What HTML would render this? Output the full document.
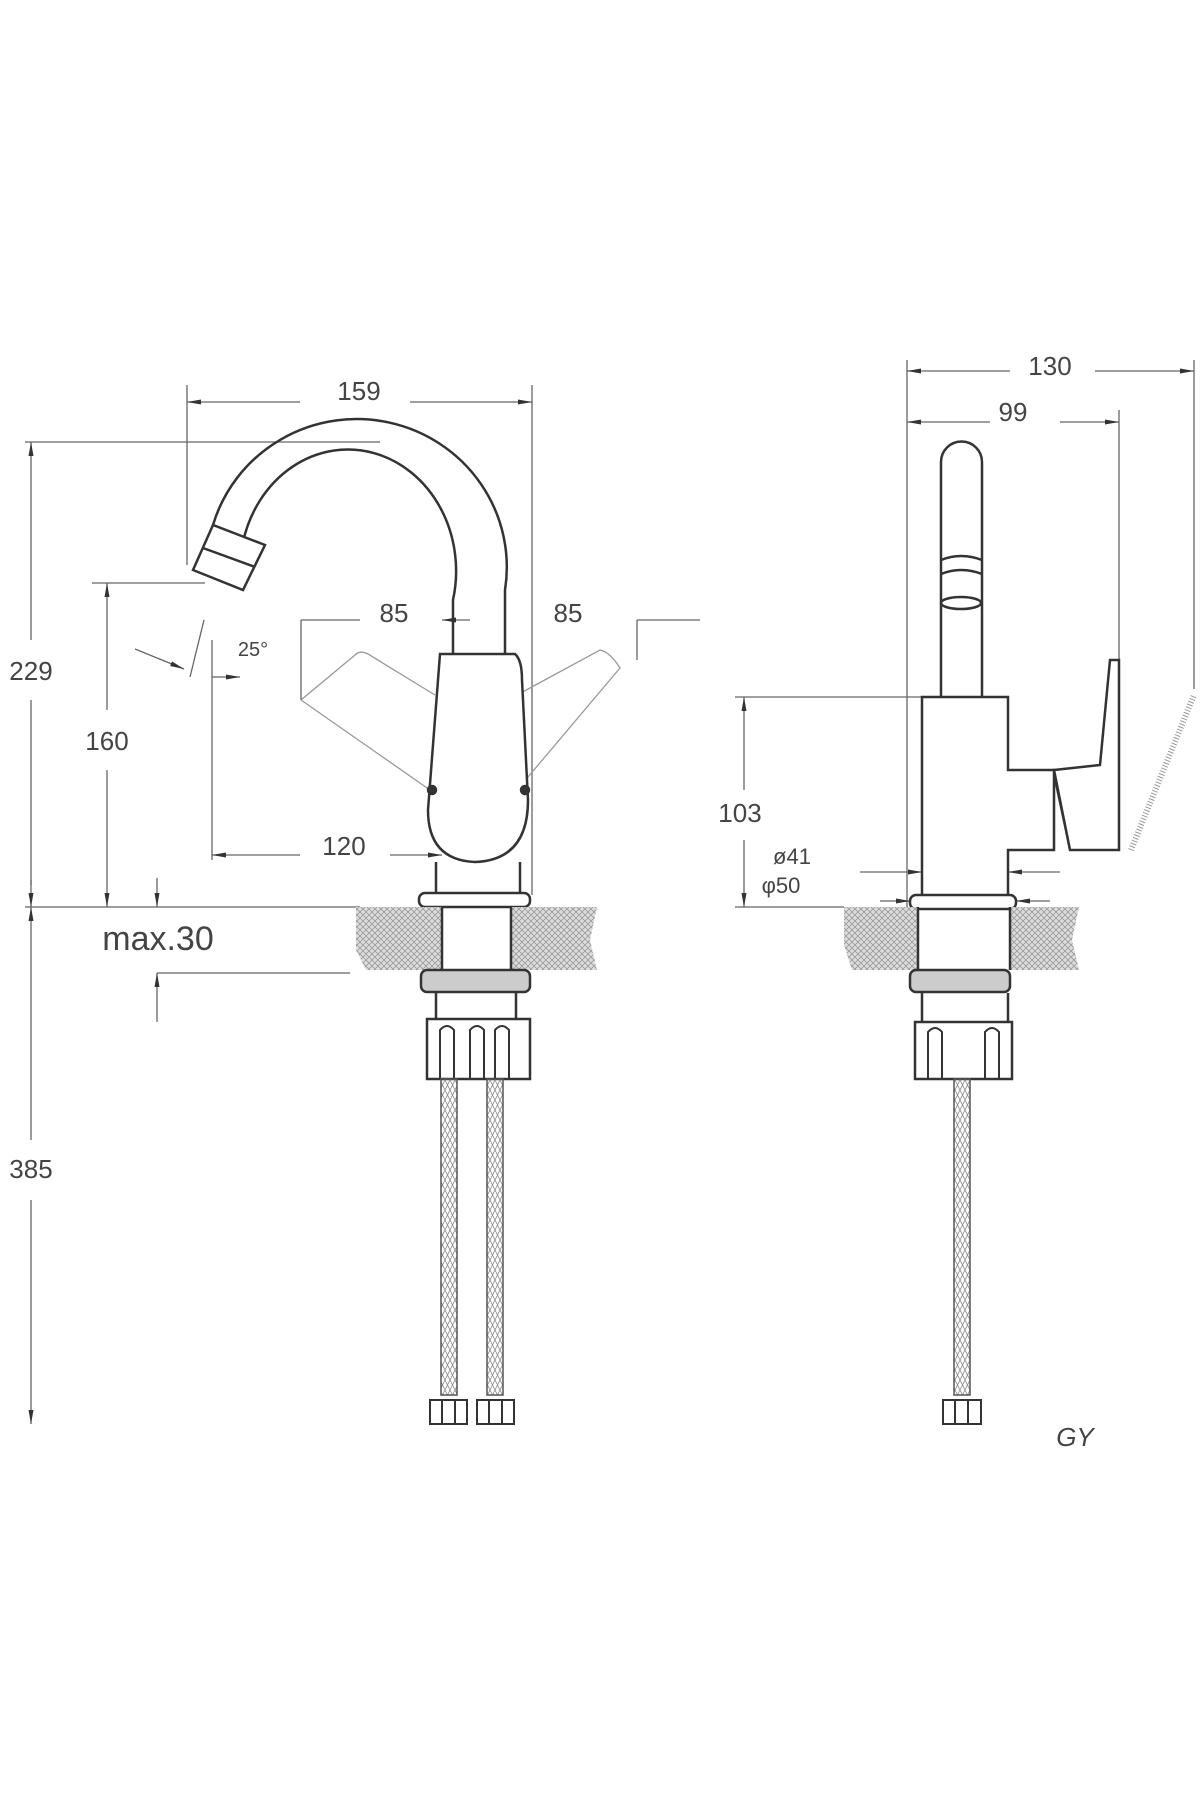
<!DOCTYPE html>
<html><head><meta charset="utf-8"><style>
html,body{margin:0;padding:0;background:#fff;}
svg{display:block;}
text{font-family:"Liberation Sans",sans-serif;fill:#444;}
</style></head><body>
<svg width="1200" height="1800" viewBox="0 0 1200 1800" xmlns="http://www.w3.org/2000/svg">
<defs>
<pattern id="h" width="6" height="6" patternUnits="userSpaceOnUse"><rect width="6" height="6" fill="#ddd"/><path d="M0 6L6 0M0 0L6 6" stroke="#999" stroke-width="0.8"/></pattern>
<pattern id="hs" width="5" height="10" patternUnits="userSpaceOnUse"><path d="M0 0L5 10M5 0L0 10" stroke="#888" stroke-width="0.8"/></pattern>
<marker id="a" markerWidth="14" markerHeight="8" refX="14" refY="4" orient="auto" markerUnits="userSpaceOnUse"><path d="M0 1.5L14 4L0 6.5Z" fill="#333"/></marker>
</defs>
<g stroke="#666" stroke-width="1.3" fill="none">
<!-- left view dims -->
<line x1="187" y1="385" x2="187" y2="565"/>
<line x1="532" y1="385" x2="532" y2="895"/>
<line x1="300" y1="402" x2="187" y2="402" marker-end="url(#a)"/>
<line x1="410" y1="402" x2="532" y2="402" marker-end="url(#a)"/>
<line x1="25" y1="442" x2="380" y2="442"/>
<line x1="31" y1="640" x2="31" y2="442" marker-end="url(#a)"/>
<line x1="31" y1="700" x2="31" y2="885"/>
<line x1="31" y1="880" x2="31" y2="907" marker-end="url(#a)"/>
<line x1="31" y1="935" x2="31" y2="907" marker-end="url(#a)"/>
<line x1="31" y1="935" x2="31" y2="1140"/>
<line x1="31" y1="1200" x2="31" y2="1424" marker-end="url(#a)"/>
<line x1="92" y1="583" x2="205" y2="583"/>
<line x1="107" y1="710" x2="107" y2="583" marker-end="url(#a)"/>
<line x1="107" y1="770" x2="107" y2="907" marker-end="url(#a)"/>
<line x1="25" y1="907" x2="360" y2="907"/>
<line x1="157" y1="878" x2="157" y2="907" marker-end="url(#a)"/>
<line x1="157" y1="1022" x2="157" y2="973" marker-end="url(#a)"/>
<line x1="157" y1="973" x2="350" y2="973"/>
<line x1="212" y1="640" x2="212" y2="860"/>
<line x1="300" y1="855" x2="212" y2="855" marker-end="url(#a)"/>
<line x1="390" y1="855" x2="442" y2="855" marker-end="url(#a)"/>
<line x1="301" y1="620" x2="301" y2="700"/>
<line x1="301" y1="620" x2="360" y2="620"/>
<line x1="470" y1="620" x2="442" y2="620" marker-end="url(#a)"/>
<line x1="700" y1="620" x2="637" y2="620"/>
<line x1="637" y1="620" x2="637" y2="660"/>
<line x1="204" y1="620" x2="190" y2="677"/>
<line x1="135" y1="649" x2="184" y2="669" marker-end="url(#a)"/>
<line x1="212" y1="677" x2="240" y2="677" marker-end="url(#a)"/>
<!-- ghost levers -->
<path d="M301 700 L355 655 Q360 650 368 654 L435 695 M301 700 L430 790" stroke="#999"/>
<path d="M517 695 L600 650 Q610 652 620 668 L517 790" stroke="#999"/>
</g>
<g stroke="#333" stroke-width="2.5" fill="none">
<!-- spout -->
<path d="M453 654 L453 600 A105 118 0 0 0 243 542"/>
<path d="M505 654 L505 590 A150 148 0 0 0 213 525"/>
<path d="M193 570 L213 525 L265 545 L243 590 Z" fill="#fff"/>
<line x1="203" y1="548" x2="255" y2="567"/>
<!-- handle -->
<path d="M440 654 L515 654 Q522 660 522 680 L528 800 Q528 860 475 862 Q428 860 428 810 Z" fill="#fff"/>
<circle cx="432" cy="790" r="4" fill="#333"/><circle cx="525" cy="790" r="4" fill="#333"/>
<line x1="436" y1="862" x2="436" y2="892"/><line x1="520" y1="862" x2="520" y2="892"/>
<rect x="419" y="893" width="111" height="14" rx="6" fill="#fff"/>
</g>
<path d="M356 907 L442 907 L442 970 L366 970 L356 950 Z" fill="url(#h)"/>
<path d="M511 907 L597 907 L590 940 L597 970 L511 970 Z" fill="url(#h)"/>
<g stroke="#333" stroke-width="2.5" fill="none">
<line x1="442" y1="907" x2="442" y2="970"/><line x1="511" y1="907" x2="511" y2="970"/>
<rect x="421" y="970" width="109" height="22" rx="6" fill="#ccc"/>
<line x1="436" y1="993" x2="436" y2="1019"/><line x1="516" y1="993" x2="516" y2="1019"/>
<rect x="427" y="1019" width="103" height="60" fill="#fff"/>
<path d="M440 1079V1030Q447 1022 454 1030V1079M470 1079V1030Q477 1022 484 1030V1079M495 1079V1030Q502 1022 509 1030V1079" stroke-width="2"/>
</g>
<rect x="441" y="1079" width="16" height="316" fill="url(#hs)" stroke="#555" stroke-width="1.5"/>
<rect x="487" y="1079" width="16" height="316" fill="url(#hs)" stroke="#555" stroke-width="1.5"/>
<g stroke="#333" stroke-width="2" fill="#fff">
<rect x="430" y="1400" width="37" height="24"/><rect x="477" y="1400" width="37" height="24"/>
<line x1="442" y1="1400" x2="442" y2="1424"/><line x1="455" y1="1400" x2="455" y2="1424"/>
<line x1="489" y1="1400" x2="489" y2="1424"/><line x1="502" y1="1400" x2="502" y2="1424"/>
</g>
<!-- right view -->
<g stroke="#666" stroke-width="1.3" fill="none">
<line x1="907" y1="360" x2="907" y2="907"/>
<line x1="1194" y1="360" x2="1194" y2="689"/>
<line x1="1119" y1="410" x2="1119" y2="660"/>
<line x1="1010" y1="371" x2="907" y2="371" marker-end="url(#a)"/>
<line x1="1095" y1="371" x2="1194" y2="371" marker-end="url(#a)"/>
<line x1="990" y1="422" x2="907" y2="422" marker-end="url(#a)"/>
<line x1="1060" y1="422" x2="1119" y2="422" marker-end="url(#a)"/>
<line x1="735" y1="697" x2="922" y2="697"/>
<line x1="744" y1="790" x2="744" y2="697" marker-end="url(#a)"/>
<line x1="744" y1="840" x2="744" y2="907" marker-end="url(#a)"/>
<line x1="735" y1="907" x2="844" y2="907"/>
<line x1="860" y1="872" x2="922" y2="872" marker-end="url(#a)"/>
<line x1="1060" y1="872" x2="1008" y2="872" marker-end="url(#a)"/>
<line x1="880" y1="901" x2="910" y2="901" marker-end="url(#a)"/>
<line x1="1050" y1="901" x2="1016" y2="901" marker-end="url(#a)"/>
<line x1="1131" y1="850" x2="1194" y2="695" stroke="#999" stroke-width="6" stroke-dasharray="1 2"/>
</g>
<g stroke="#333" stroke-width="2.5" fill="none">
<path d="M941 697 V462 A20 20 0 0 1 982 462 V697"/>
<path d="M941 560 Q961 552 982 560 M941 574 Q961 566 982 574"/>
<ellipse cx="961" cy="603" rx="20" ry="6"/>
<path d="M922 907 V697 H1008 V770 H1054 V850 H1008 V907" fill="#fff"/>
<path d="M1054 770 L1100 765 L1110 660 L1119 660 L1119 850 L1070 850 Z" fill="#fff"/>
<path d="M1054 775 L1070 850" stroke-width="2"/>
<rect x="910" y="895" width="106" height="14" rx="6" fill="#fff"/>
</g>
<path d="M844 907 L918 907 L918 970 L852 970 L844 945 Z" fill="url(#h)"/>
<path d="M1010 907 L1079 907 L1072 940 L1079 970 L1010 970 Z" fill="url(#h)"/>
<g stroke="#333" stroke-width="2.5" fill="none">
<line x1="918" y1="907" x2="918" y2="970"/><line x1="1010" y1="907" x2="1010" y2="970"/>
<rect x="910" y="970" width="100" height="22" rx="6" fill="#ccc"/>
<line x1="922" y1="993" x2="922" y2="1022"/><line x1="1008" y1="993" x2="1008" y2="1022"/>
<rect x="915" y="1022" width="97" height="57" fill="#fff"/>
<path d="M928 1079V1032Q935 1024 942 1032V1079M985 1079V1032Q992 1024 999 1032V1079" stroke-width="2"/>
</g>
<rect x="954" y="1079" width="16" height="316" fill="url(#hs)" stroke="#555" stroke-width="1.5"/>
<g stroke="#333" stroke-width="2" fill="#fff">
<rect x="943" y="1400" width="38" height="24"/>
<line x1="955" y1="1400" x2="955" y2="1424"/><line x1="968" y1="1400" x2="968" y2="1424"/>
</g>
<g font-size="26" text-anchor="middle">
<text x="359" y="400">159</text>
<text x="31" y="680">229</text>
<text x="107" y="750">160</text>
<text x="31" y="1178">385</text>
<text x="394" y="622">85</text>
<text x="568" y="622">85</text>
<text x="344" y="855">120</text>
<text x="253" y="656" font-size="20">25°</text>
<text x="158" y="950" font-size="34">max.30</text>
<text x="1050" y="375">130</text>
<text x="1013" y="421">99</text>
<text x="740" y="822">103</text>
<text x="792" y="864" font-size="22">ø41</text>
<text x="781" y="893" font-size="22">φ50</text>
<text x="1075" y="1446" font-size="26" font-style="italic" fill="#777">GY</text>
</g>
</svg>
</body></html>
